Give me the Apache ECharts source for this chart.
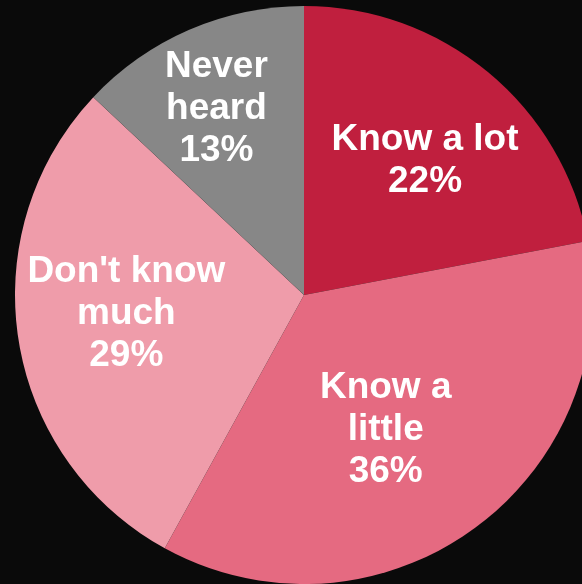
<!DOCTYPE html>
<html>
<head>
<meta charset="utf-8">
<style>
  html, body { margin: 0; padding: 0; background: #0a0a0a; }
  #chart { width: 582px; height: 584px; }
</style>
<script src="https://cdn.jsdelivr.net/npm/echarts@6/dist/echarts.min.js"></script>
</head>
<body>
<div id="chart"></div>
<script>
// Awareness shares, in percent, clockwise from twelve o'clock
const categories = ['Know a lot', 'Know a\nlittle', "Don't know\nmuch", 'Never\nheard'];
const shares = [22, 36, 29, 13];
const sliceColors = ['#c01f3e', '#e56a81', '#ef9caa', '#878787'];

// Nudges of each label away from the slice's default inside anchor
const labelNudge = [[27, -21], [-5, 15], [-32, -4], [-29, -51]];

const chart = echarts.init(document.getElementById('chart'));
chart.setOption({
  backgroundColor: '#0a0a0a',
  animation: false,
  series: [{
    type: 'pie',
    center: [304, 295],
    radius: [0, 289],
    startAngle: 90,
    clockwise: true,
    avoidLabelOverlap: false,
    itemStyle: { borderWidth: 0 },
    label: {
      show: true,
      position: 'inside',
      formatter: p => p.name + '\n' + p.value + '%',
      color: '#ffffff',
      fontFamily: 'Liberation Sans, Arial, sans-serif',
      fontWeight: 'bold',
      fontSize: 37,
      lineHeight: 42,
      align: 'center'
    },
    labelLine: { show: false },
    emphasis: { disabled: true },
    labelLayout: p => ({ dx: labelNudge[p.dataIndex][0], dy: labelNudge[p.dataIndex][1] }),
    data: categories.map((name, i) => ({
      name: name,
      value: shares[i],
      itemStyle: { color: sliceColors[i] }
    }))
  }]
});
</script>
</body>
</html>
